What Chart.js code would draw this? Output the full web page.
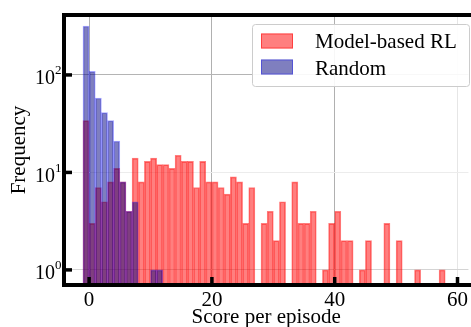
<!DOCTYPE html>
<html>
<head>
<meta charset="utf-8">
<title>Score histogram</title>
<script src="https://cdn.jsdelivr.net/npm/chart.js@4/dist/chart.umd.min.js"></script>
<style>
  html, body { margin: 0; padding: 0; background: #ffffff; }
  #wrap { width: 471px; height: 327px; }
</style>
</head>
<body>
<div id="wrap"><canvas id="histChart" width="471" height="327"></canvas></div>
<script>
// 直方图的箱子中心（每箱宽 1，从 -1 到 58）
const binCenters = [
  -0.5, 0.5, 1.5, 2.5, 3.5, 4.5, 5.5, 6.5, 7.5, 8.5,
  9.5, 10.5, 11.5, 12.5, 13.5, 14.5, 15.5, 16.5, 17.5, 18.5,
  19.5, 20.5, 21.5, 22.5, 23.5, 24.5, 25.5, 26.5, 27.5, 28.5,
  29.5, 30.5, 31.5, 32.5, 33.5, 34.5, 35.5, 36.5, 37.5, 38.5,
  39.5, 40.5, 41.5, 42.5, 43.5, 44.5, 45.5, 46.5, 47.5, 48.5,
  49.5, 50.5, 51.5, 52.5, 53.5, 54.5, 55.5, 56.5, 57.5
];

// 各箱频数
const modelBasedCounts = [
  34, 3, 7, 5, 8, 11, 8, 4, 14, 8,
  13, 14, 12, 12, 11, 15, 13, 13, 7, 13,
  8, 8, 7, 6, 9, 8, 3, 7, 0, 3,
  4, 2, 5, 0, 8, 3, 3, 4, 0, 1,
  3, 4, 2, 2, 0, 1, 2, 0, 0, 3,
  0, 2, 0, 0, 1, 0, 0, 0, 1
];
const randomCounts = [
  318, 109, 58, 41, 34, 21, 8, 4, 5, 0,
  0, 1, 1, 0, 0, 0, 0, 0, 0, 0,
  0, 0, 0, 0, 0, 0, 0, 0, 0, 0,
  0, 0, 0, 0, 0, 0, 0, 0, 0, 0,
  0, 0, 0, 0, 0, 0, 0, 0, 0, 0,
  0, 0, 0, 0, 0, 0, 0, 0, 0
];

const seriesLabels = ['Model-based RL', 'Random'];
const xTickValues = [0, 20, 40, 60];
const yTickValues = [1, 10, 100];
const yTickExponents = ['0', '1', '2'];   // 10 的指数

const FONT = "'Liberation Serif', 'Times New Roman', serif";
const RED_FILL = 'rgba(255, 0, 0, 0.5)';
const RED_EDGE = 'rgba(255, 0, 0, 0.5)';
const BLUE_FILL = 'rgba(0, 0, 128, 0.5)';
const BLUE_EDGE = 'rgba(0, 0, 255, 0.35)';

/**
 * 把计数转成柱状图的点，0 不画（对数轴）
 */
function toPoints(counts) {
  return binCenters.map(function(c, i) {
    return { x: c, y: counts[i] > 0 ? counts[i] : null };
  });
}

// 坐标框、向内的刻度线、y 轴上标标签和图例
const axesFramePlugin = {
  id: 'axesFrame',
  afterDraw(chart) {
    const ctx = chart.ctx;
    const a = chart.chartArea;
    const xs = chart.scales.x;
    const ys = chart.scales.y;
    ctx.save();

    // 刻度线
    ctx.strokeStyle = '#000';
    ctx.lineWidth = 3.5;
    ctx.lineCap = 'butt';
    xTickValues.forEach(function(v) {
      const px = xs.getPixelForValue(v);
      ctx.beginPath();
      ctx.moveTo(px, a.bottom);
      ctx.lineTo(px, a.bottom - 8);
      ctx.stroke();
    });
    yTickValues.forEach(function(v) {
      const py = ys.getPixelForValue(v);
      ctx.beginPath();
      ctx.moveTo(a.left, py);
      ctx.lineTo(a.left + 8, py);
      ctx.stroke();
    });

    // y 轴标签：10 加上标指数
    ctx.fillStyle = '#000';
    ctx.textBaseline = 'alphabetic';
    ctx.textAlign = 'left';
    yTickValues.forEach(function(v, i) {
      const py = ys.getPixelForValue(v);
      ctx.font = '20px ' + FONT;
      ctx.fillText('10', 35, py + 9.5);
      ctx.font = '13px ' + FONT;
      ctx.fillText(yTickExponents[i], 55, py - 0.5);
    });

    // 外框（右侧被裁掉）
    ctx.lineWidth = 4;
    ctx.lineJoin = 'miter';
    ctx.beginPath();
    ctx.moveTo(a.right + 4, a.top);
    ctx.lineTo(a.left, a.top);
    ctx.lineTo(a.left, a.bottom);
    ctx.lineTo(a.right + 4, a.bottom);
    ctx.stroke();

    // 图例
    const bx = 252.5, by = 24.5, bw = 217, bh = 62;
    ctx.beginPath();
    ctx.roundRect(bx, by, bw, bh, 3);
    ctx.fillStyle = 'rgba(255, 255, 255, 0.9)';
    ctx.fill();
    ctx.strokeStyle = '#cccccc';
    ctx.lineWidth = 1;
    ctx.stroke();

    const items = [
      { top: 33.5, base: 48.3 },
      { top: 59.5, base: 75 }
    ];
    ctx.font = '21px ' + FONT;
    chart.data.datasets.forEach(function(ds, i) {
      const it = items[i];
      ctx.fillStyle = ds.backgroundColor;
      ctx.fillRect(261, it.top, 32, 15);
      ctx.strokeStyle = ds.borderColor;
      ctx.strokeRect(261.5, it.top + 0.5, 31, 14);
      ctx.fillStyle = '#000';
      ctx.fillText(ds.label, 315, it.base);
    });

    ctx.restore();
  }
};

/**
 * 初始化直方图
 */
function initializeChart() {
  const ctx = document.getElementById('histChart').getContext('2d');
  return new Chart(ctx, {
    type: 'bar',
    data: {
      datasets: [
        {
          label: seriesLabels[0],
          data: toPoints(modelBasedCounts),
          backgroundColor: RED_FILL,
          borderColor: RED_EDGE,
          borderWidth: 1,
          order: 2
        },
        {
          label: seriesLabels[1],
          data: toPoints(randomCounts),
          backgroundColor: BLUE_FILL,
          borderColor: BLUE_EDGE,
          borderWidth: 1,
          order: 1
        }
      ]
    },
    options: {
      responsive: false,
      animation: false,
      devicePixelRatio: 1,
      grouped: false,
      barPercentage: 1,
      categoryPercentage: 1,
      layout: { padding: { top: 15, right: 0, bottom: 0, left: 0 } },
      plugins: {
        legend: { display: false },
        tooltip: { enabled: false }
      },
      scales: {
        x: {
          type: 'linear',
          min: -4.09,
          max: 61.78,
          offset: false,
          z: 1,
          afterBuildTicks: function(scale) {
            scale.ticks = xTickValues.map(function(v) { return { value: v }; });
          },
          afterFit: function(scale) { scale.height = 42; },
          grid: {
            offset: false,
            color: ['#b0b0b0', '#b0b0b0', '#b0b0b0', '#e6e6e6'],
            lineWidth: 1,
            drawTicks: false
          },
          border: { display: false },
          ticks: {
            padding: 3,
            color: '#000',
            font: { family: FONT, size: 21 },
            maxRotation: 0
          },
          title: {
            display: true,
            text: 'Score per episode',
            color: '#000',
            font: { family: FONT, size: 21 },
            padding: { top: 0, bottom: -3 }
          }
        },
        y: {
          type: 'logarithmic',
          min: 0.725,
          max: 412,
          z: 1,
          afterBuildTicks: function(scale) {
            scale.ticks = yTickValues.map(function(v) { return { value: v }; });
          },
          afterFit: function(scale) { scale.width = 64; },
          grid: {
            offset: false,
            color: ['#d4d4d4', '#ececec', '#b4b4b4'],
            lineWidth: 1,
            drawTicks: false
          },
          border: { display: false },
          ticks: {
            display: false
          },
          title: {
            display: true,
            text: 'Frequency',
            color: '#000',
            font: { family: FONT, size: 21 },
            padding: { top: 7, bottom: 0 }
          }
        }
      }
    },
    plugins: [axesFramePlugin]
  });
}

initializeChart();
</script>
</body>
</html>
